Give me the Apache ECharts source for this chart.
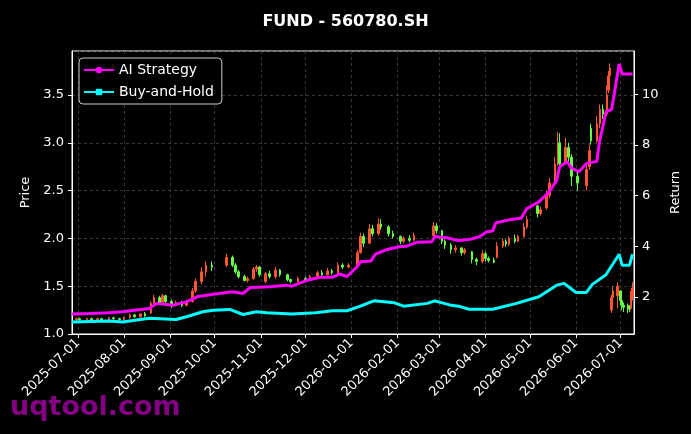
<!doctype html>
<html><head><meta charset="utf-8"></head>
<body style="margin:0;background:#000">
<div id="main" style="width:691px;height:434px"></div>
<script src="https://cdn.jsdelivr.net/npm/echarts@6/dist/echarts.min.js"></script>
<script>
// candle dates and [open, close, low, high]
var kDates = [
  '2025-06-30','2025-07-02','2025-07-07','2025-07-10','2025-07-14','2025-07-17','2025-07-22','2025-07-25','2025-07-29',
  '2025-08-01','2025-08-05','2025-08-08','2025-08-12','2025-08-15','2025-08-19','2025-08-21','2025-08-25','2025-08-27','2025-08-29',
  '2025-09-02','2025-09-05','2025-09-09','2025-09-12','2025-09-16','2025-09-18','2025-09-22','2025-09-25','2025-09-29',
  '2025-10-09','2025-10-13','2025-10-15','2025-10-17','2025-10-21','2025-10-23','2025-10-27','2025-10-29','2025-10-31',
  '2025-11-04','2025-11-07','2025-11-11','2025-11-14','2025-11-19','2025-11-21','2025-11-26',
  '2025-12-01','2025-12-04','2025-12-09','2025-12-12','2025-12-16','2025-12-19','2025-12-23','2025-12-26','2025-12-30',
  '2026-01-05','2026-01-07','2026-01-09','2026-01-13','2026-01-15','2026-01-19','2026-01-21','2026-01-26','2026-01-29',
  '2026-02-03','2026-02-05','2026-02-09','2026-02-12','2026-02-25','2026-02-27',
  '2026-03-03','2026-03-05','2026-03-09','2026-03-12','2026-03-16','2026-03-18','2026-03-23','2026-03-26','2026-03-30',
  '2026-04-01','2026-04-03','2026-04-07','2026-04-09','2026-04-13','2026-04-15','2026-04-17','2026-04-21','2026-04-23','2026-04-27','2026-04-29',
  '2026-05-06','2026-05-08','2026-05-12','2026-05-14','2026-05-18','2026-05-20','2026-05-21','2026-05-25','2026-05-27','2026-05-29',
  '2026-06-02','2026-06-08','2026-06-10','2026-06-11','2026-06-15','2026-06-17','2026-06-19','2026-06-22','2026-06-23','2026-06-24',
  '2026-06-25','2026-06-26','2026-06-29','2026-07-01','2026-07-02','2026-07-03','2026-07-06','2026-07-07','2026-07-08','2026-07-09'
];
var kValues = [
  [1.15,1.16,1.14,1.17],[1.16,1.15,1.14,1.17],[1.15,1.16,1.14,1.17],[1.16,1.15,1.14,1.17],[1.15,1.16,1.14,1.17],[1.16,1.15,1.14,1.17],[1.15,1.17,1.14,1.18],[1.17,1.16,1.15,1.18],[1.16,1.15,1.14,1.17],
  [1.15,1.17,1.14,1.18],[1.17,1.20,1.16,1.21],[1.20,1.18,1.17,1.21],[1.18,1.21,1.17,1.22],[1.21,1.19,1.18,1.23],[1.22,1.32,1.21,1.34],[1.32,1.38,1.30,1.41],[1.38,1.33,1.31,1.40],[1.33,1.40,1.32,1.42],[1.40,1.34,1.32,1.41],
  [1.34,1.30,1.27,1.36],[1.30,1.33,1.29,1.35],[1.33,1.30,1.28,1.35],[1.30,1.34,1.29,1.36],[1.34,1.45,1.33,1.48],[1.45,1.55,1.43,1.58],[1.55,1.65,1.52,1.70],[1.65,1.72,1.60,1.76],[1.72,1.70,1.66,1.76],
  [1.72,1.80,1.70,1.84],[1.80,1.72,1.70,1.82],[1.72,1.65,1.63,1.74],[1.65,1.60,1.58,1.67],[1.60,1.56,1.55,1.62],[1.56,1.58,1.54,1.60],[1.58,1.68,1.57,1.70],[1.68,1.70,1.65,1.72],[1.70,1.62,1.60,1.71],
  [1.55,1.63,1.53,1.65],[1.63,1.60,1.58,1.66],[1.60,1.67,1.58,1.70],[1.67,1.62,1.60,1.68],[1.62,1.57,1.55,1.63],[1.57,1.55,1.53,1.58],[1.55,1.58,1.54,1.60],
  [1.58,1.57,1.55,1.60],[1.57,1.60,1.56,1.62],[1.60,1.64,1.59,1.66],[1.64,1.62,1.60,1.67],[1.62,1.66,1.61,1.69],[1.66,1.64,1.62,1.68],[1.64,1.72,1.63,1.75],[1.72,1.70,1.68,1.74],[1.70,1.72,1.69,1.74],
  [1.72,1.85,1.71,1.88],[1.85,2.02,1.84,2.06],[2.02,1.95,1.91,2.05],[1.95,2.10,1.94,2.15],[2.10,2.05,2.02,2.14],[2.05,2.15,2.03,2.21],[2.15,2.12,2.09,2.20],[2.12,2.05,2.02,2.14],[2.05,2.02,2.00,2.08],
  [2.02,1.97,1.94,2.03],[1.97,2.00,1.95,2.02],[2.00,1.98,1.96,2.03],[1.98,2.03,1.97,2.06],[2.03,2.13,2.01,2.17],[2.13,2.08,2.05,2.16],
  [2.08,1.97,1.94,2.09],[1.97,1.93,1.89,1.99],[1.93,1.88,1.84,1.95],[1.88,1.90,1.85,1.93],[1.90,1.85,1.82,1.91],[1.85,1.88,1.83,1.90],[1.86,1.78,1.74,1.87],[1.78,1.76,1.72,1.80],[1.76,1.84,1.74,1.88],
  [1.84,1.79,1.76,1.86],[1.79,1.77,1.75,1.81],[1.77,1.75,1.74,1.80],[1.80,1.92,1.79,1.96],[1.92,1.97,1.90,2.00],[1.97,1.94,1.91,1.99],[1.94,2.00,1.92,2.02],[2.00,1.97,1.95,2.04],[1.97,2.02,1.96,2.04],[2.02,2.12,2.01,2.16],[2.12,2.20,2.10,2.24],
  [2.34,2.26,2.22,2.35],[2.26,2.30,2.24,2.33],[2.32,2.45,2.30,2.50],[2.45,2.58,2.42,2.63],[2.60,2.78,2.58,2.85],[2.80,2.95,2.76,3.11],[3.00,2.78,2.73,3.10],[2.80,2.95,2.77,3.05],[2.95,2.85,2.80,3.00],[2.85,2.65,2.55,2.88],
  [2.65,2.58,2.50,2.70],[2.55,2.72,2.50,2.77],[2.75,2.92,2.72,2.98],[3.15,3.02,2.98,3.20],[3.02,3.20,3.00,3.28],[3.20,3.35,3.15,3.40],[3.35,3.30,3.25,3.40],[3.30,3.50,3.28,3.60],[3.55,3.70,3.52,3.75],[3.70,3.78,3.60,3.83],
  [1.25,1.38,1.22,1.41],[1.38,1.45,1.30,1.50],[1.40,1.50,1.27,1.54],[1.45,1.35,1.30,1.46],[1.35,1.30,1.25,1.38],[1.30,1.28,1.23,1.33],[1.30,1.27,1.22,1.32],[1.28,1.26,1.23,1.30],[1.27,1.40,1.25,1.45],[1.40,1.48,1.35,1.54]
];

var stratDates = [
  '2025-06-27','2025-07-09','2025-07-22','2025-07-31','2025-08-18','2025-08-23','2025-09-03','2025-09-12','2025-09-19','2025-09-30',
  '2025-10-13','2025-10-20','2025-10-25','2025-11-07','2025-11-18','2025-11-22','2025-12-02','2025-12-11','2025-12-19','2025-12-24','2025-12-29',
  '2026-01-05','2026-01-07','2026-01-14','2026-01-17','2026-01-25','2026-02-02','2026-02-07','2026-02-14','2026-02-24','2026-02-26',
  '2026-03-06','2026-03-14','2026-03-21','2026-03-28','2026-04-02','2026-04-06','2026-04-08','2026-04-19','2026-04-25','2026-04-29',
  '2026-05-07','2026-05-14','2026-05-19','2026-05-21','2026-05-26','2026-05-29','2026-06-03','2026-06-08','2026-06-15','2026-06-17',
  '2026-06-19','2026-06-21','2026-06-25','2026-06-30','2026-07-02','2026-07-09'
];
var stratVals = [
  1.32,1.34,1.37,1.41,1.54,1.74,1.67,1.80,2.00,2.10,
  2.20,2.13,2.37,2.40,2.46,2.42,2.65,2.77,2.77,2.90,2.80,
  3.20,3.38,3.41,3.68,3.87,3.98,4.00,4.15,4.17,4.38,
  4.33,4.22,4.26,4.37,4.57,4.60,4.92,5.06,5.10,5.49,
  5.75,6.15,6.60,7.14,7.34,7.08,6.94,7.27,7.35,8.20,
  8.70,9.30,9.40,11.20,10.80,10.80
];

var bhDates = [
  '2025-06-27','2025-07-22','2025-07-31','2025-08-18','2025-09-05','2025-09-12','2025-09-23','2025-09-30','2025-10-11','2025-10-20',
  '2025-10-29','2025-11-05','2025-11-22','2025-12-08','2025-12-19','2025-12-29','2026-01-07','2026-01-16','2026-01-30','2026-02-05',
  '2026-02-21','2026-02-26','2026-03-08','2026-03-14','2026-03-21','2026-04-06','2026-04-22','2026-05-07','2026-05-19','2026-05-24',
  '2026-06-01','2026-06-08','2026-06-12','2026-06-21','2026-06-30','2026-07-02','2026-07-07','2026-07-09'
];
var bhVals = [
  1.00,1.04,1.00,1.15,1.10,1.21,1.41,1.47,1.50,1.30,
  1.41,1.37,1.32,1.37,1.45,1.45,1.63,1.84,1.76,1.63,
  1.74,1.84,1.68,1.63,1.51,1.51,1.74,2.00,2.46,2.53,
  2.17,2.17,2.49,2.86,3.68,3.25,3.25,3.68
];

function pairs(d, v) { return d.map(function (x, i) { return [x, v[i]]; }); }

var chart = echarts.init(document.getElementById('main'));
var font = 'DejaVu Sans';
chart.setOption({
  backgroundColor: '#000',
  animation: false,
  textStyle: { fontFamily: font },
  title: {
    text: 'FUND - 560780.SH', left: 'center', top: 9,
    textStyle: { color: '#fff', fontSize: 16, fontWeight: 'bold', fontFamily: font }
  },
  legend: {
    left: 79, top: 58, orient: 'vertical',
    backgroundColor: '#000', borderColor: '#ccc', borderWidth: 1, borderRadius: 4,
    padding: [5, 8, 5, 4], itemWidth: 30, itemHeight: 8, itemGap: 8,
    textStyle: { color: '#fff', fontSize: 14, fontFamily: font },
    data: ['AI Strategy', 'Buy-and-Hold']
  },
  grid: { left: 72, right: 57, top: 51, bottom: 100, show: true, borderColor: '#fff', borderWidth: 1 },
  xAxis: {
    type: 'time', min: '2025-06-27', max: '2026-07-10',
    minInterval: 28 * 86400000, maxInterval: 31 * 86400000,
    axisLine: { lineStyle: { color: '#fff' } },
    axisTick: { show: true, lineStyle: { color: '#fff' }, length: 4 },
    axisLabel: { color: '#fff', fontSize: 13, rotate: 45, formatter: '{yyyy}-{MM}-{dd}', hideOverlap: false, margin: 7 },
    splitLine: { show: true, lineStyle: { color: '#444', type: [3, 3], width: 0.8 } }
  },
  yAxis: [{
    type: 'value', min: 1.0, max: 3.96, interval: 0.5, position: 'left',
    name: 'Price', nameLocation: 'middle', nameGap: 35,
    nameTextStyle: { color: '#fff', fontSize: 13 },
    axisLine: { show: true, lineStyle: { color: '#fff' } },
    axisTick: { show: true, lineStyle: { color: '#fff' }, length: 4 },
    axisLabel: { color: '#fff', fontSize: 13, showMaxLabel: false, formatter: function (v) { return v.toFixed(1); } },
    splitLine: { show: true, lineStyle: { color: '#444', type: [3, 3], width: 0.8 } }
  }, {
    type: 'value', min: 0.53, max: 11.71, splitNumber: 5, position: 'right',
    name: 'Return', nameLocation: 'middle', nameGap: 28,
    nameTextStyle: { color: '#fff', fontSize: 13 },
    axisLine: { show: true, lineStyle: { color: '#fff' } },
    axisTick: { show: true, lineStyle: { color: '#fff' }, length: 4 },
    axisLabel: { color: '#fff', fontSize: 13, showMinLabel: false, showMaxLabel: false },
    splitLine: { show: false }
  }],
  series: [{
    type: 'candlestick', name: 'Price', yAxisIndex: 0, barWidth: 2,
    data: kDates.map(function (d, i) { return [d].concat(kValues[i]); }),
    itemStyle: { color: '#ff5533', color0: '#66ff44', borderColor: '#ff5533', borderColor0: '#66ff44', borderWidth: 1 }
  }, {
    type: 'line', name: 'AI Strategy', yAxisIndex: 1,
    data: pairs(stratDates, stratVals),
    showSymbol: false, symbol: 'circle', symbolSize: 5,
    lineStyle: { color: '#ff00ff', width: 3 }, itemStyle: { color: '#ff00ff' }
  }, {
    type: 'line', name: 'Buy-and-Hold', yAxisIndex: 1,
    data: pairs(bhDates, bhVals),
    showSymbol: false, symbol: 'rect', symbolSize: 5,
    lineStyle: { color: '#00ffff', width: 3 }, itemStyle: { color: '#00ffff' }
  }],
  graphic: [{
    type: 'text', left: 10, top: 394,
    style: { text: 'uqtool.com', fill: '#850085', font: 'bold 27px "DejaVu Sans"' }
  }]
});
</script>
</body></html>
